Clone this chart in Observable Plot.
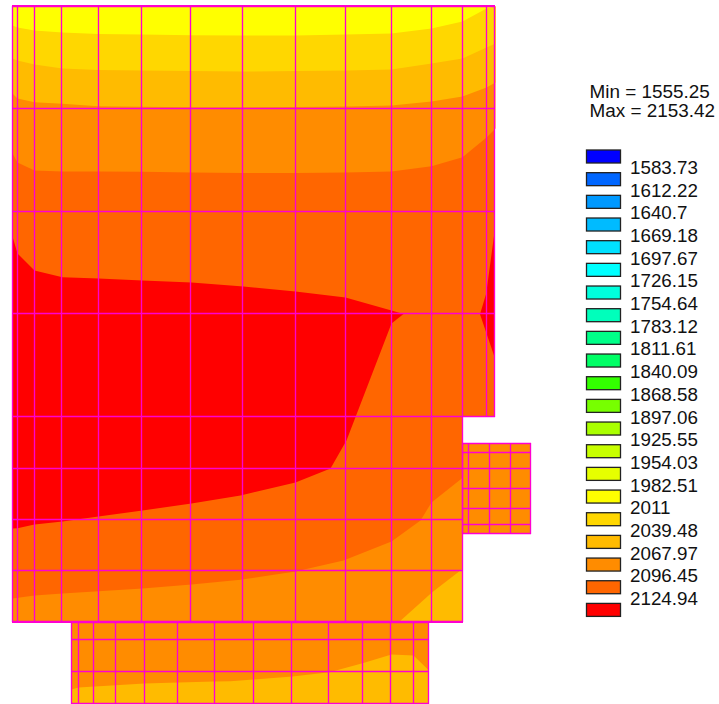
<!DOCTYPE html>
<html><head><meta charset="utf-8">
<script src="https://cdn.jsdelivr.net/npm/d3@7"></script>
<script src="https://cdn.jsdelivr.net/npm/@observablehq/plot@0.6"></script>
<style>html,body{margin:0;padding:0;background:#fff}svg{display:block}</style>
</head><body><div id="chart"></div>
<script>
// Mesh grid lines (model units)
const mainX = [12,17,34,61,98,141,190,242,295,345,391,431,462];
const upperXExtra = [486,494];
const mainYUpper = [6,108,211,313,416];
const mainYLower = [468,519,570,621];
const lowX = [71,78,93,115,144,177,214,253,291,328,362,390,413,428];
const lowY = [622,639,671,703];
const sideX = [462,468,489,510,530];
const sideY = [443,452,468,488,508,524,533];

// Contour band boundaries
const xTop = [12,17,34,62,98,142,191,243,295,345,391,431,462,486,495];
const yellowLow = [25,27,30,32,33.5,34,34.7,35,35,34,33,28,21,8,6];
const goldLow = [58,60,64,68,69.5,70,70.5,71,70.5,70,69,63,58,47,43];
const amberLow = [93,98,101.7,103.3,105.7,106.3,106.7,106.7,106.5,106,105,101,96,87,82];
const orangeLow = [153,162,170,171,171,171.3,172,172.5,172.5,172,171,165.7,156.7,137,128];
const redTopX = [12,17,34,62,98,142,191,243,295,345,391,403,391,346,330,295,240,191,142,98,62,34,17,12];
const redTopY = [236,253,270,276.7,278,280,282,286,291,297,310,313.5,323,440,468,482,495,503,510,516,521,524,527.7,528];
const sliverX = [494.5,485.7,479.5,493.5,494.5];
const sliverY = [228,293,313.7,355,355];
const darkLowX = [12,34,62,98,142,191,240,295,343,391,420,431,462.5];
const darkLowY = [598,595,593,590.7,588,584,579.3,571,560,541,520,502,477];
const cornerX = [398,431.7,462.5,462.5];
const cornerY = [622,591.7,568,622];
const lowAmberX = [71,78,144,178,214,230,253,292,329,362,391,413,428.5,428.5,71];
const lowAmberY = [689,687,683,682,681,680.7,679,676,671.7,662.7,654,655,670,704,704];

// Legend
const levels = ["1583.73","1612.22","1640.7","1669.18","1697.67","1726.15","1754.64","1783.12","1811.61","1840.09","1868.58","1897.06","1925.55","1954.03","1982.51","2011","2039.48","2067.97","2096.45","2124.94"];
const swatchColors = ["#0000ff","#0066ff","#0099ff","#00bbff","#00e0ff","#00ffff","#00ffdd","#00ffbb","#00ff88","#00ff66","#33ff00","#77ff00","#aaff00","#c8ff00","#e6ff00","#ffff00","#ffd700","#ffbb00","#ff8c00","#ff6600","#ff0000"];
const statLines = ["Min = 1555.25","Max = 2153.42"];

const C = {yellow:"#ffff00",gold:"#ffd700",amber:"#ffbb00",orange:"#ff8c00",dark:"#ff6600",red:"#ff0000"};
const pts = (xs,ys)=>xs.map((x,i)=>({x,y:ys[i]}));
const close = (xs,ys,extra)=>[...pts(xs,ys),...extra];
const poly = (data,fill)=>Plot.line(data,{x:"x",y:"y",fill,stroke:null,curve:"linear"});
const rect = (x1,x2,y1,y2,fill)=>Plot.rect([{x1,x2,y1,y2}],{x1:"x1",x2:"x2",y1:"y1",y2:"y2",fill});

const MESH = "#ff00d0";
const vRules = (xs,y1,y2,sw=1.35)=>Plot.ruleX(xs,{y1,y2,stroke:MESH,strokeWidth:sw});
const hRules = (ys,x1,x2,sw=1.3)=>Plot.ruleY(ys,{x1,x2,stroke:MESH,strokeWidth:sw});

const swatches = swatchColors.map((c,i)=>({c,i}));
const labels = levels.map((t,i)=>({t,i}));
const swatchTop = i=>150+i*22.67;
const FONT = "Liberation Sans, Arial, sans-serif";

const plot = Plot.plot({
  width:719,height:704,margin:0,
  x:{domain:[0,719],range:[0,719],axis:null},
  y:{domain:[0,704],range:[0,704],axis:null},
  style:{background:"#fff"},
  marks:[
    rect(12,494.5,6,416.5,C.dark),
    rect(12,462.5,416.5,622,C.orange),
    rect(462.5,530.5,443.5,533.5,C.orange),
    rect(71,428.5,622,704,C.orange),
    poly(close(xTop,orangeLow,[{x:495,y:6},{x:12,y:6}]),C.orange),
    poly(close(xTop,amberLow,[{x:495,y:6},{x:12,y:6}]),C.amber),
    poly(close(xTop,goldLow,[{x:495,y:6},{x:12,y:6}]),C.gold),
    poly(close(xTop,yellowLow,[{x:495,y:6},{x:12,y:6}]),C.yellow),
    poly(close(darkLowX,darkLowY,[{x:462.5,y:416.5},{x:12,y:416.5}]),C.dark),
    poly(pts(redTopX,redTopY),C.red),
    poly(pts(sliverX,sliverY),C.red),
    poly(pts(cornerX,cornerY),C.amber),
    poly(pts(lowAmberX,lowAmberY),C.amber),
    vRules(mainX,6,622),
    vRules(upperXExtra,6,417),
    hRules(mainYUpper,12,495),
    hRules(mainYLower,12,463),
    vRules(lowX,622,704),
    hRules(lowY,71,429),
    vRules(sideX,443,534),
    hRules(sideY,462,531),
    hRules([5.5],12,495,1.8),
    hRules([621.5],12,463,2),
    Plot.rect(swatches,{x1:586.5,x2:620.5,y1:d=>swatchTop(d.i),y2:d=>swatchTop(d.i)+13,fill:"c",stroke:"#222",strokeWidth:1.3}),
    Plot.text(labels,{x:629.5,y:d=>167.5+d.i*22.68,text:"t",textAnchor:"start",fontSize:18.8,fontFamily:FONT,fill:"#111"}),
    Plot.text(statLines,{x:589,y:(d,i)=>[91.5,110.5][i],text:d=>d,textAnchor:"start",fontSize:18.9,fontFamily:FONT,fill:"#111"})
  ]
});
document.getElementById("chart").append(plot);
</script></body></html>
